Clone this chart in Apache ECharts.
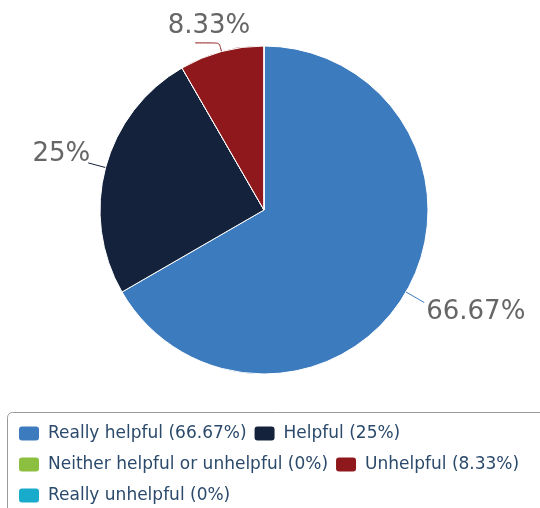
<!DOCTYPE html>
<html>
<head>
<meta charset="utf-8">
<script src="https://cdn.jsdelivr.net/npm/echarts@6/dist/echarts.min.js"></script>
<style>
  html, body { margin: 0; padding: 0; background: #fff; }
  #chart { width: 540px; height: 508px; }
</style>
</head>
<body>
<div id="chart"></div>
<script>
// answers to the survey question
const categories = [
  "Really helpful",
  "Helpful",
  "Neither helpful or unhelpful",
  "Unhelpful",
  "Really unhelpful"
];
const counts = [8, 3, 0, 1, 0];
const colors = ["#3d7bbf", "#14233b", "#8cbf3f", "#8e181b", "#19abcb"];

// label line lengths and label nudges, per slice (positioning only)
const lineLen = [[21, 0], [18, 0], [0, 0], [9, 24], [0, 0]];
const labelShift = [[0, 10], [4, -9], [0, 0], [57, -17], [0, 0]];

const total = counts.reduce((a, b) => a + b, 0);
const pct = v => +(v / total * 100).toFixed(2);

const chart = echarts.init(document.getElementById("chart"));

const seriesData = categories.map((name, i) => {
  const item = {
    name: name,
    value: counts[i],
    labelLine: { length: lineLen[i][0], length2: lineLen[i][1] }
  };
  if (counts[i] === 0) {
    item.label = { show: false };
    item.labelLine = { show: false };
  }
  return item;
});

const option = {
  color: colors,
  animation: false,
  graphic: [
    {
      type: "rect",
      shape: { x: 7.5, y: 412.5, width: 600, height: 200, r: 5 },
      style: { fill: "none", stroke: "#9a9a9a", lineWidth: 1 }
    }
  ],
  legend: {
    left: 12,
    top: 416,
    width: 522,
    itemWidth: 22,
    itemHeight: 16,
    itemGap: 6,
    icon: "roundRect",
    textStyle: {
      color: "#2b4a6b",
      fontSize: 17,
      fontFamily: "DejaVu Sans",
      lineHeight: 25,
      padding: [0, 0, 0, 3]
    },
    formatter(name) {
      const i = categories.indexOf(name);
      return `${name} (${pct(counts[i])}%)`;
    }
  },
  series: [
    {
      type: "pie",
      center: [264, 210],
      radius: 164,
      startAngle: 90,
      clockwise: true,
      data: seriesData,
      itemStyle: { borderColor: "#fff", borderWidth: 1 },
      label: {
        show: true,
        formatter: "{d}%",
        fontSize: 26,
        color: "#666",
        fontFamily: "DejaVu Sans",
        overflow: "none",
        distanceToLabelLine: 2
      },
      labelLine: {
        show: true,
        smooth: 0.2,
        lineStyle: { width: 1 }
      },
      labelLayout(params) {
        const s = labelShift[params.dataIndex];
        return { dx: s[0], dy: s[1] };
      },
      emphasis: { disabled: true }
    }
  ]
};

chart.setOption(option);
</script>
</body>
</html>
